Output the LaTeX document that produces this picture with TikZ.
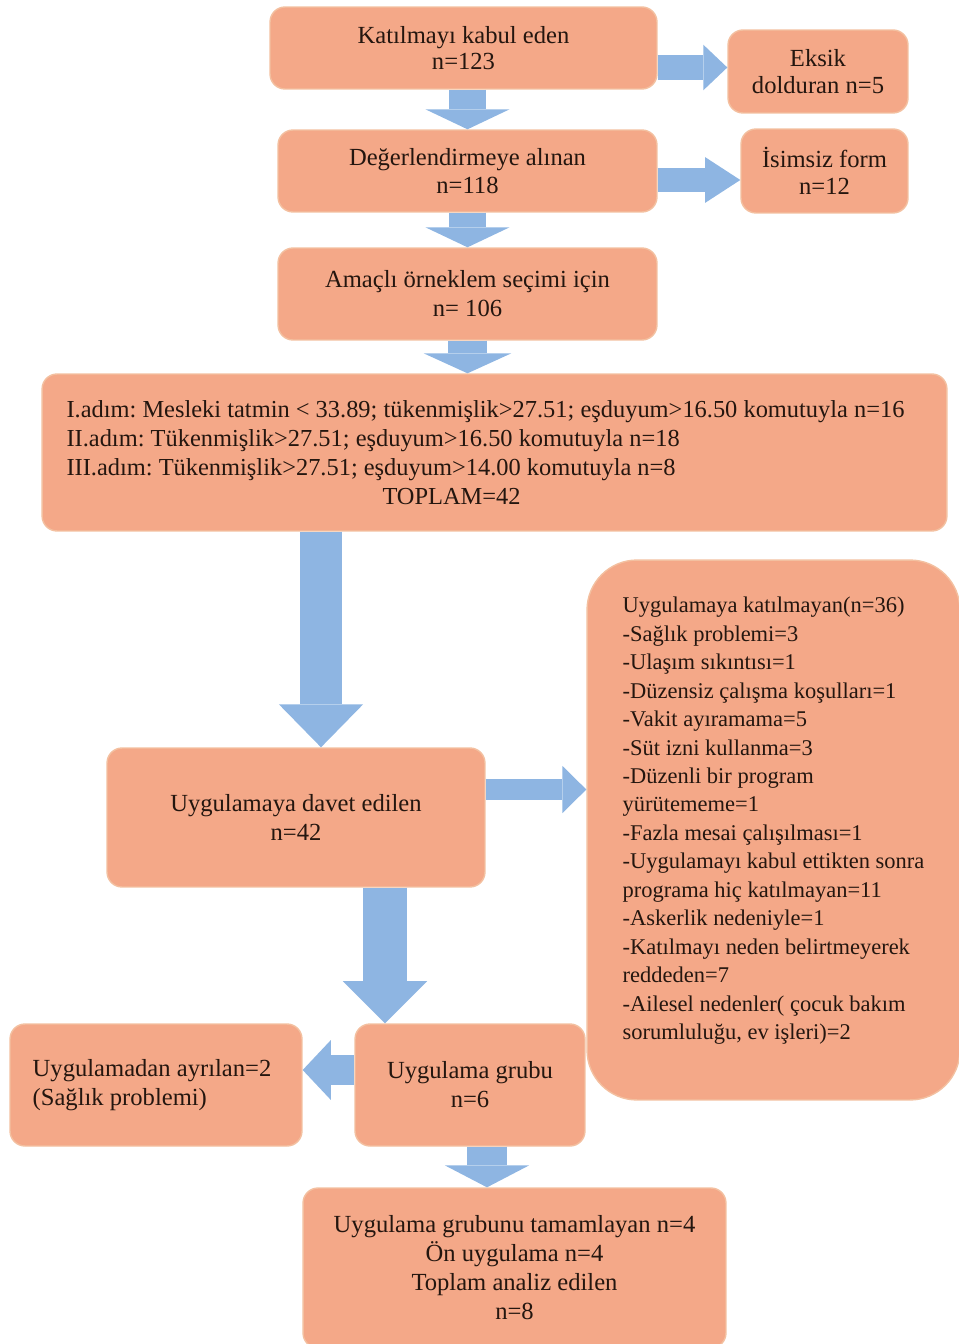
\documentclass[tikz,border=0pt]{standalone}
\usepackage{fontspec}
\setmainfont{Liberation Serif}
\usetikzlibrary{arrows.meta,calc}
\frenchspacing

\definecolor{boxfill}{HTML}{F4A888}
\definecolor{boxline}{HTML}{F3C0A0}
\definecolor{arrowblue}{HTML}{8EB5E2}
\definecolor{textdark}{HTML}{24160F}

\tikzset{
  flowbox/.style={draw=boxline, fill=boxfill, line width=0.8pt, rounded corners=0.3cm,
    text=textdark, align=center, inner sep=0pt, font=\fontsize{14}{16.5}\selectfont},
  fatarrow/.style n args={3}{draw=arrowblue, line width=#1,
    -{Triangle[width=#2,length=#3,line width=0pt]}},
}

\begin{document}
\begin{tikzpicture}[x=0.02cm,y=-0.02cm]
  \useasboundingbox (0,0) rectangle (959,1344);

  % Top boxes
  \node[flowbox, minimum width=7.74cm, minimum height=1.64cm, font=\fontsize{14}{15}\selectfont]
    (kabul) at (463.5,48) {Katılmayı kabul eden\\n=123};
  \node[flowbox, minimum width=3.6cm, minimum height=1.66cm, font=\fontsize{14}{15}\selectfont]
    (eksik) at (818,71.5) {Eksik\\dolduran n=5};
  \node[flowbox, minimum width=7.58cm, minimum height=1.64cm, font=\fontsize{14}{15.5}\selectfont]
    (deger) at (467.5,171) {Değerlendirmeye alınan\\n=118};
  \node[flowbox, minimum width=3.34cm, minimum height=1.68cm, font=\fontsize{14}{15.5}\selectfont]
    (isimsiz) at (824.5,171) {İsimsiz form\\n=12};
  \node[flowbox, minimum width=7.58cm, minimum height=1.84cm]
    (amacli) at (467.5,294) {Amaçlı örneklem seçimi için\\n= 106};

  % Selection steps
  \node[flowbox, align=left, minimum width=18.1cm, minimum height=3.14cm, font=\fontsize{13.9}{16.5}\selectfont]
    (adim) at (494.5,452.5) {I.adım: Mesleki tatmin < 33.89; tükenmişlik>27.51; eşduyum>16.50 komutuyla n=16\hspace*{0.36cm}\\
    II.adım: Tükenmişlik>27.51; eşduyum>16.50 komutuyla n=18\\
    III.adım: Tükenmişlik>27.51; eşduyum>14.00 komutuyla n=8\\
    \hspace*{6.32cm}TOPLAM=42};

  % Middle boxes
  \node[flowbox, minimum width=7.56cm, minimum height=2.78cm]
    (davet) at (296,817.5) {Uygulamaya davet edilen\\n=42};
  \node[flowbox, align=left, rounded corners=1cm, minimum width=7.46cm, minimum height=10.8cm,
    font=\fontsize{12.8}{16.2}\selectfont]
    (katilmayan) at (773.5,830) {Uygulamaya katılmayan(n=36)\\
    -Sağlık problemi=3\\
    -Ulaşım sıkıntısı=1\\
    -Düzensiz çalışma koşulları=1\\
    -Vakit ayıramama=5\\
    -Süt izni kullanma=3\\
    -Düzenli bir program\\
    yürütememe=1\\
    -Fazla mesai çalışılması=1\\
    -Uygulamayı kabul ettikten sonra\\
    programa hiç katılmayan=11\\
    -Askerlik nedeniyle=1\\
    -Katılmayı neden belirtmeyerek\\
    reddeden=7\\
    -Ailesel nedenler( çocuk bakım\\
    sorumluluğu, ev işleri)=2\\[-3pt]\mbox{}};

  % Bottom boxes
  \node[flowbox, align=left, minimum width=5.84cm, minimum height=2.44cm]
    (ayrilan) at (156,1085) {Uygulamadan ayrılan=2\hspace*{0.16cm}\\(Sağlık problemi)};
  \node[flowbox, minimum width=4.6cm, minimum height=2.44cm]
    (grubu) at (470,1085) {Uygulama grubu\\n=6};
  \node[flowbox, minimum width=8.46cm, minimum height=3.2cm]
    (final) at (514.5,1268) {Uygulama grubunu tamamlayan n=4\\Ön uygulama n=4\\Toplam analiz edilen\\n=8};

  % Arrows
  \draw[fatarrow={21.6pt}{48pt}{11.4pt}] (deger.north |- kabul.south) -- (deger.north);
  \draw[fatarrow={14.2pt}{26pt}{13.7pt}] ($(kabul.east |- eksik.west)+(0,-4)$) -- ($(eksik.west)+(0,-4)$);
  \draw[fatarrow={14.2pt}{26pt}{20pt}] ($(deger.east |- isimsiz.west)+(0,9)$) -- ($(isimsiz.west)+(0,9)$);
  \draw[fatarrow={21.6pt}{48pt}{11.4pt}] (deger.south) -- (amacli.north);
  \draw[fatarrow={22pt}{50pt}{11.4pt}] (amacli.south) -- (amacli.south |- adim.north);
  \draw[fatarrow={24pt}{48pt}{24.5pt}] ($(davet.north |- adim.south)+(25,0)$) -- ($(davet.north)+(25,0)$);
  \draw[fatarrow={12.5pt}{27pt}{13.7pt}] ($(davet.east)+(0,-28)$) -- ($(davet.east -| katilmayan.west)+(0,-28)$);
  \draw[fatarrow={25pt}{48pt}{24pt}] ($(davet.south)+(89,0)$) -- ($(davet.south |- grubu.north)+(89,0)$);
  \draw[fatarrow={17pt}{34pt}{16pt}] ($(grubu.west)+(0,-15)$) -- ($(ayrilan.east)+(0,-15)$);
  \draw[fatarrow={22.8pt}{48pt}{12.5pt}] ($(grubu.south)+(17,0)$) -- ($(grubu.south |- final.north)+(17,0)$);
\end{tikzpicture}
\end{document}
